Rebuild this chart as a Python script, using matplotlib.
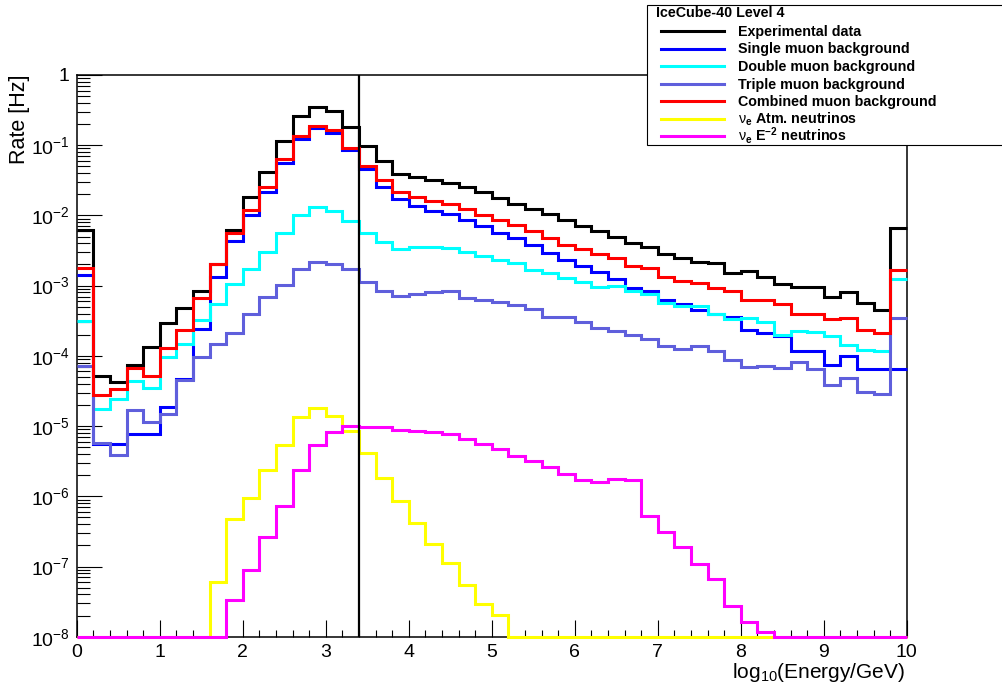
import matplotlib
matplotlib.use('Agg')
import matplotlib.pyplot as plt
from matplotlib.lines import Line2D
from matplotlib.patches import Rectangle
from matplotlib.ticker import FixedLocator, LogLocator, MultipleLocator, NullFormatter
import numpy as np

plt.rcParams['font.family'] = ['Liberation Sans', 'DejaVu Sans']
plt.rcParams['mathtext.fontset'] = 'custom'
plt.rcParams['mathtext.rm'] = 'Liberation Sans'
plt.rcParams['mathtext.it'] = 'Liberation Sans:italic'
plt.rcParams['mathtext.bf'] = 'Liberation Sans:bold'
plt.rcParams['mathtext.sf'] = 'Liberation Sans'

# 50 bins of 0.2 in log10(E/GeV)
bin_edges = np.linspace(0., 10., 51)
energy_cut = 3.4
rate_floor = 1e-8

data_rate = [6.2e-3, 5.1e-5, 4.2e-5, 7.3e-5, 1.34e-4, 2.9e-4, 4.8e-4, 8.5e-4, 2.05e-3, 6.2e-3,
             1.8e-2, 4.2e-2, 0.115, 0.26, 0.354, 0.31, 0.184, 0.098, 0.0598, 0.039,
             0.035, 0.032, 0.0288, 0.0253, 0.0213, 0.0177, 0.0146, 0.0123, 0.0104, 8.7e-3,
             7.1e-3, 6.0e-3, 5.0e-3, 4.0e-3, 3.5e-3, 2.84e-3, 2.46e-3, 2.18e-3, 2.1e-3, 1.5e-3,
             1.59e-3, 1.31e-3, 1.05e-3, 9.5e-4, 9.5e-4, 6.8e-4, 8.0e-4, 5.6e-4, 4.45e-4, 6.7e-3]
single_mu = [1.43e-3, 5.6e-6, 5.6e-6, 7.6e-6, 7.6e-6, 1.9e-5, 4.7e-5, 2.4e-4, 1.33e-3, 4.3e-3,
             1.02e-2, 2.14e-2, 5.5e-2, 0.123, 0.174, 0.148, 0.086, 0.0455, 0.0258, 0.017,
             0.0137, 0.0117, 0.0104, 8.7e-3, 7.1e-3, 5.7e-3, 4.7e-3, 3.8e-3, 2.9e-3, 2.33e-3,
             1.88e-3, 1.54e-3, 1.26e-3, 9.2e-4, 8.5e-4, 6.3e-4, 5.5e-4, 4.55e-4, 4.0e-4, 3.57e-4,
             2.3e-4, 2.1e-4, 1.9e-4, 1.19e-4, 1.16e-4, 7.5e-5, 9.8e-5, 6.4e-5, 6.4e-5, 6.5e-5]
double_mu = [3.1e-4, 1.76e-5, 2.44e-5, 4.35e-5, 3.5e-5, 9.5e-5, 1.48e-4, 3.2e-4, 5.4e-4, 1.07e-3,
             1.72e-3, 3.03e-3, 5.6e-3, 1.02e-2, 1.3e-2, 1.16e-2, 8.2e-3, 5.6e-3, 4.2e-3, 3.3e-3,
             3.6e-3, 3.55e-3, 3.4e-3, 3.0e-3, 2.66e-3, 2.29e-3, 2.1e-3, 1.69e-3, 1.5e-3, 1.28e-3,
             1.12e-3, 9.6e-4, 9.8e-4, 8.3e-4, 7.6e-4, 5.6e-4, 5.1e-4, 5.1e-4, 4.0e-4, 3.3e-4,
             3.46e-4, 3.0e-4, 2.0e-4, 2.24e-4, 2.19e-4, 1.9e-4, 1.44e-4, 1.2e-4, 1.16e-4, 1.24e-3]
triple_mu = [7.2e-5, 5.7e-6, 3.85e-6, 1.72e-5, 1.13e-5, 1.5e-5, 4.5e-5, 9.6e-5, 1.47e-4, 2.1e-4,
             3.9e-4, 6.9e-4, 1.03e-3, 1.72e-3, 2.2e-3, 2.0e-3, 1.7e-3, 1.12e-3, 8.5e-4, 7.2e-4,
             7.7e-4, 8.2e-4, 8.5e-4, 6.6e-4, 6.3e-4, 5.9e-4, 5.25e-4, 4.7e-4, 3.6e-4, 3.6e-4,
             3.0e-4, 2.5e-4, 2.24e-4, 2.0e-4, 1.76e-4, 1.36e-4, 1.26e-4, 1.4e-4, 1.16e-4, 8.7e-5,
             6.9e-5, 7.2e-5, 6.7e-5, 8.1e-5, 6.4e-5, 3.9e-5, 4.9e-5, 3.1e-5, 2.9e-5, 3.5e-4]
combined_mu = [1.78e-3, 2.8e-5, 3.4e-5, 6.7e-5, 5.2e-5, 1.3e-4, 2.35e-4, 6.6e-4, 2.05e-3, 5.6e-3,
               1.2e-2, 2.5e-2, 6.4e-2, 0.135, 0.188, 0.165, 0.0905, 0.051, 0.0315, 0.0213,
               0.018, 0.016, 0.0144, 0.0124, 0.0102, 8.7e-3, 7.3e-3, 6.0e-3, 4.75e-3, 3.8e-3,
               3.3e-3, 2.84e-3, 2.46e-3, 1.92e-3, 1.78e-3, 1.32e-3, 1.17e-3, 1.09e-3, 9.2e-4, 8.3e-4,
               6.3e-4, 6.2e-4, 5.5e-4, 4.0e-4, 4.0e-4, 3.35e-4, 3.46e-4, 2.36e-4, 2.13e-4, 1.65e-3]
nue_atm = [0, 0, 0, 0, 0, 0, 0, 0, 6.0e-8, 4.7e-7,
           9.4e-7, 2.33e-6, 5.3e-6, 1.35e-5, 1.78e-5, 1.4e-5, 8.5e-6, 4.2e-6, 1.82e-6, 8.5e-7,
           4.2e-7, 2.12e-7, 1.13e-7, 5.5e-8, 2.9e-8, 2.04e-8, 0, 0, 0, 0,
           0, 0, 0, 0, 0, 0, 0, 0, 0, 0,
           0, 0, 0, 0, 0, 0, 0, 0, 0, 0]
nue_e2 = [0, 0, 0, 0, 0, 0, 0, 0, 0, 3.3e-8,
          8.8e-8, 2.6e-7, 7.2e-7, 2.4e-6, 5.4e-6, 8.1e-6, 1.0e-5, 9.8e-6, 9.7e-6, 8.9e-6,
          8.5e-6, 8.1e-6, 7.7e-6, 6.6e-6, 5.6e-6, 4.7e-6, 3.8e-6, 3.2e-6, 2.6e-6, 2.1e-6,
          1.73e-6, 1.62e-6, 1.76e-6, 1.68e-6, 5.2e-7, 3.1e-7, 1.9e-7, 1.1e-7, 6.7e-8, 2.7e-8,
          1.6e-8, 1.18e-8, 0, 0, 0, 0, 0, 0, 0, 0]

series_labels = ['Experimental data', 'Single muon background', 'Double muon background',
                 'Triple muon background', 'Combined muon background',
                 r'$\mathrm{\nu}_{\mathbf{e}}$ Atm. neutrinos',
                 r'$\mathrm{\nu}_{\mathbf{e}}$ $\mathbf{E}^{\mathbf{-2}}$ neutrinos']
series_colors = ['black', '#0000ff', '#00ffff', '#5f5fdc', '#ff0000', '#ffff00', '#ff00ff']
series_values = [data_rate, single_mu, double_mu, triple_mu, combined_mu, nue_atm, nue_e2]

y_decades = list(range(-8, 1))
y_ticklabels = [r'$10^{%d}$' % d for d in y_decades[:-1]] + ['1']

fig = plt.figure(figsize=(10.03, 6.93), dpi=100)
ax = fig.add_axes([0.0765, 0.0812, 0.8275, 0.8106])

for i, (vals, color) in enumerate(zip(series_values, series_colors)):
    # empty bins sit on the bottom of the log axis
    vals = np.maximum(np.asarray(vals, dtype=float), rate_floor)
    ax.stairs(vals, bin_edges, baseline=None, color=color, lw=2.2,
              zorder=3 + 0.1 * i, clip_on=False)

ax.axvline(energy_cut, color='black', lw=1.6, zorder=4)

ax.set_yscale('log')
ax.set_xlim(bin_edges[0], bin_edges[-1])
ax.set_ylim(rate_floor, 1)

ax.yaxis.set_major_locator(FixedLocator([10.0 ** d for d in y_decades]))
ax.set_yticklabels(y_ticklabels)
ax.yaxis.set_minor_locator(LogLocator(base=10, subs=np.arange(2, 10), numticks=100))
ax.yaxis.set_minor_formatter(NullFormatter())
ax.xaxis.set_major_locator(MultipleLocator(1))
ax.xaxis.set_minor_locator(MultipleLocator(0.2))

ax.tick_params(axis='y', which='major', direction='in', length=18, width=0.8,
               pad=5, labelsize=14, right=False)
ax.tick_params(axis='y', which='minor', direction='in', length=9, width=0.8, right=False)
ax.tick_params(axis='x', which='major', direction='in', length=12, width=0.8,
               pad=5, labelsize=14, top=False)
ax.tick_params(axis='x', which='minor', direction='in', length=5.3, width=0.8, top=False)
for sp in ax.spines.values():
    sp.set_linewidth(1.1)

fig.text(20 / 1003, 1 - 75 / 693, 'Rate [Hz]', rotation=90, ha='center', va='top', fontsize=15.5)
fig.text(905 / 1003, 1 - 678 / 693, r'log$_{10}$(Energy/GeV)', ha='right',
         va='baseline', fontsize=15)

# legend box drawn by hand, running off the right edge
W, H = 1003., 693.
fig.add_artist(Rectangle((647 / W, 1 - 145 / H), 370 / W, 140 / H, transform=fig.transFigure,
                         facecolor='white', edgecolor='black', lw=0.8, zorder=5))
fig.text(656 / W, 1 - 17.3 / H, 'IceCube-40 Level 4', fontsize=10.3, fontweight='bold',
         va='baseline', ha='left', zorder=6)
for k, (label, color) in enumerate(zip(series_labels, series_colors)):
    yc = 31 + 17.5 * k
    fig.add_artist(Line2D([661 / W, 724 / W], [1 - yc / H, 1 - yc / H], color=color, lw=2.2,
                          transform=fig.transFigure, zorder=6))
    fig.text(738 / W, 1 - (yc + 5) / H, label, fontsize=10.3, fontweight='bold',
             va='baseline', ha='left', zorder=6)

fig.savefig('out.png', dpi=100)
